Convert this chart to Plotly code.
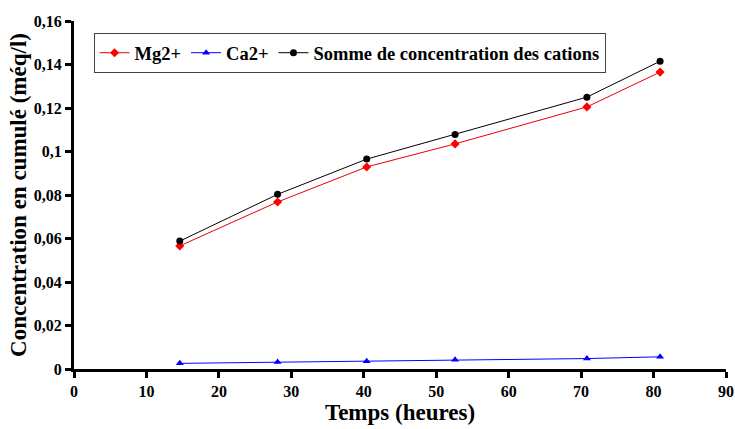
import plotly.graph_objects as go

temps = [14.6, 28.1, 40.4, 52.6, 70.8, 80.9]
mg = [0.0566, 0.0768, 0.0929, 0.1035, 0.1205, 0.1365]
ca = [0.0026, 0.0032, 0.0036, 0.0042, 0.0048, 0.0056]
somme = [0.0588, 0.0803, 0.0965, 0.1078, 0.1250, 0.1415]

font = "Liberation Serif"
fig = go.Figure()
fig.add_trace(go.Scatter(x=temps, y=mg, mode="lines+markers", name="Mg2+",
                         line=dict(color="#e8000b", width=1),
                         marker=dict(symbol="diamond", size=7, color="#ff0000")))
fig.add_trace(go.Scatter(x=temps, y=ca, mode="lines+markers", name="Ca2+",
                         line=dict(color="#0000ff", width=1),
                         marker=dict(symbol="triangle-up", size=7, color="#0000ff")))
fig.add_trace(go.Scatter(x=temps, y=somme, mode="lines+markers",
                         name="Somme de concentration des cations",
                         line=dict(color="#000000", width=1),
                         marker=dict(symbol="circle", size=7, color="#000000")))

fig.update_layout(
    width=735, height=429,
    margin=dict(l=74, r=9, t=21, b=60),
    paper_bgcolor="white", plot_bgcolor="white",
    separators=", ",
    font=dict(family=font, color="black", size=14, weight="bold"),
    showlegend=True,
    legend=dict(orientation="h", x=0.03, y=0.965, xanchor="left", yanchor="top",
                bordercolor="#444444", borderwidth=1, bgcolor="white",
                font=dict(family=font, size=18.5, color="black", weight="bold"),
                itemwidth=30, tracegroupgap=0),
    xaxis=dict(range=[0, 90], dtick=10, showgrid=False, zeroline=False,
               showline=True, linecolor="black", linewidth=3, automargin=False,
               ticks="outside", ticklen=6, tickwidth=3, tickcolor="black",
               ticklabeloverflow="allow",
               tickfont=dict(family=font, size=16, color="black", weight="bold"),
               title=dict(text="Temps (heures)", standoff=5,
                          font=dict(family=font, size=23, color="black", weight="bold"))),
    yaxis=dict(range=[0, 0.16], dtick=0.02, showgrid=False, zeroline=False,
               showline=True, linecolor="black", linewidth=3, automargin=False,
               ticks="outside", ticklen=6, tickwidth=3, tickcolor="black",
               ticklabeloverflow="allow",
               tickfont=dict(family=font, size=16, color="black", weight="bold"),
               title=dict(text="Concentration en cumulé (méq/l)", standoff=1,
                          font=dict(family=font, size=23, color="black", weight="bold"))),
)
fig.write_html("out.html", config={"displayModeBar": False},
               post_script="document.body.style.margin='0px';")
